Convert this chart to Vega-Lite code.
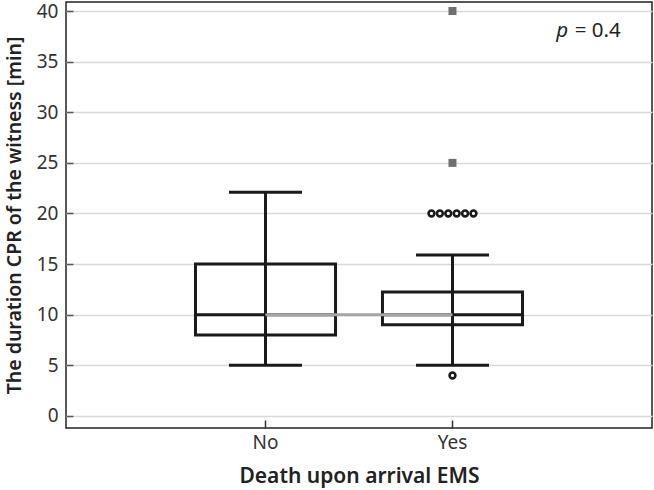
{
  "$schema": "https://vega.github.io/schema/vega-lite/v6.json",
  "width": 586,
  "height": 426,
  "autosize": "none",
  "padding": {"left": 66, "top": 2, "right": 2, "bottom": 62},
  "config": {
    "font": "Noto Sans",
    "view": {"stroke": "#222", "strokeWidth": 1.5},
    "axisY": {
      "values": [0, 5, 10, 15, 20, 25, 30, 35, 40],
      "tickSize": -7,
      "tickColor": "#555",
      "tickWidth": 1.5,
      "grid": true,
      "gridColor": "#d9d9d9",
      "gridWidth": 1.5,
      "domain": false,
      "labelFontSize": 19,
      "labelColor": "#333",
      "labelPadding": 15,
      "titleFontSize": 19.5,
      "titleFontWeight": 600,
      "titleColor": "#222",
      "titlePadding": 12
    },
    "axisX": {
      "tickSize": -8,
      "tickColor": "#333",
      "tickWidth": 1.5,
      "grid": false,
      "domain": false,
      "labelFontSize": 19,
      "labelColor": "#333",
      "labelAngle": 0,
      "labelPadding": 13,
      "titleFontSize": 21,
      "titleFontWeight": 600,
      "titleColor": "#222",
      "titlePadding": 13
    }
  },
  "datasets": {
    "boxes": [
      {"group": "No", "lower": 5, "q1": 8, "median": 10, "q3": 15, "upper": 22.1},
      {"group": "Yes", "lower": 5, "q1": 9, "median": 10, "q3": 12.25, "upper": 15.9}
    ],
    "cluster": [
      {"group": "Yes", "k": 1, "value": 20},
      {"group": "Yes", "k": 2, "value": 20},
      {"group": "Yes", "k": 3, "value": 20},
      {"group": "Yes", "k": 4, "value": 20},
      {"group": "Yes", "k": 5, "value": 20},
      {"group": "Yes", "k": 6, "value": 20}
    ],
    "outliers": [{"group": "Yes", "value": 4}],
    "extremes": [{"group": "Yes", "value": 25}, {"group": "Yes", "value": 40}],
    "ptext": [{"x": 0.857, "y": 37.4, "label": "p"}],
    "vtext": [{"x": 0.868, "y": 37.4, "label": "= 0.4"}]
  },
  "resolve": {"scale": {"x": "independent"}},
  "layer": [
    {
      "encoding": {
        "x": {
          "field": "group",
          "type": "nominal",
          "title": "Death upon arrival EMS",
          "scale": {"type": "band", "domain": ["No", "Yes"], "paddingInner": 0.251, "paddingOuter": 0.6925}
        }
      },
      "layer": [
        {
          "data": {"name": "boxes"},
          "mark": {"type": "rule", "color": "#1a1a1a", "strokeWidth": 3},
          "encoding": {
            "y": {"field": "lower", "type": "quantitative", "title": "The duration CPR of the witness [min]", "scale": {"domain": [-1.19, 40.89], "nice": false, "zero": false}},
            "y2": {"field": "upper"}
          }
        },
        {
          "data": {"name": "boxes"},
          "mark": {"type": "bar", "fill": null, "fillOpacity": 0, "stroke": "#1a1a1a", "strokeWidth": 3, "width": {"band": 1}},
          "encoding": {
            "y": {"field": "q1", "type": "quantitative", "title": "The duration CPR of the witness [min]"},
            "y2": {"field": "q3"}
          }
        },
        {
          "data": {"name": "boxes"},
          "mark": {"type": "tick", "color": "#1a1a1a", "thickness": 3, "size": 140, "opacity": 1},
          "encoding": {
            "y": {"field": "median", "type": "quantitative", "title": "The duration CPR of the witness [min]"}
          }
        },
        {
          "data": {"name": "boxes"},
          "mark": {"type": "tick", "color": "#1a1a1a", "thickness": 3, "size": 73, "opacity": 1},
          "encoding": {
            "y": {"field": "lower", "type": "quantitative", "title": "The duration CPR of the witness [min]"}
          }
        },
        {
          "data": {"name": "boxes"},
          "mark": {"type": "tick", "color": "#1a1a1a", "thickness": 3, "size": 73, "opacity": 1},
          "encoding": {
            "y": {"field": "upper", "type": "quantitative", "title": "The duration CPR of the witness [min]"}
          }
        },
        {
          "data": {"name": "boxes"},
          "mark": {"type": "line", "color": "#a5a5a5", "strokeWidth": 3},
          "encoding": {
            "y": {"field": "median", "type": "quantitative", "title": "The duration CPR of the witness [min]"}
          }
        },
        {
          "data": {"name": "cluster"},
          "mark": {"type": "point", "shape": "circle", "filled": false, "fill": "white", "fillOpacity": 1, "stroke": "#1a1a1a", "strokeWidth": 2.6, "size": 34, "opacity": 1},
          "encoding": {
            "xOffset": {"field": "k", "type": "nominal", "scale": {"type": "band", "paddingInner": 0, "paddingOuter": 0, "range": [44.8, 95.2]}},
            "y": {"field": "value", "type": "quantitative", "title": "The duration CPR of the witness [min]"}
          }
        },
        {
          "data": {"name": "outliers"},
          "mark": {"type": "point", "shape": "circle", "filled": false, "fill": "white", "fillOpacity": 1, "stroke": "#1a1a1a", "strokeWidth": 2.6, "size": 34, "opacity": 1},
          "encoding": {
            "y": {"field": "value", "type": "quantitative", "title": "The duration CPR of the witness [min]"}
          }
        },
        {
          "data": {"name": "extremes"},
          "mark": {"type": "point", "shape": "square", "filled": true, "color": "#707070", "size": 64, "opacity": 1},
          "encoding": {
            "y": {"field": "value", "type": "quantitative", "title": "The duration CPR of the witness [min]"}
          }
        }
      ]
    },
    {
      "data": {"name": "ptext"},
      "mark": {"type": "text", "align": "right", "baseline": "alphabetic", "fontSize": 20.5, "fontStyle": "italic", "color": "#222"},
      "encoding": {
        "x": {"field": "x", "type": "quantitative", "scale": {"domain": [0, 1]}, "axis": null},
        "y": {"field": "y", "type": "quantitative", "title": "The duration CPR of the witness [min]"},
        "text": {"field": "label"}
      }
    },
    {
      "data": {"name": "vtext"},
      "mark": {"type": "text", "align": "left", "baseline": "alphabetic", "fontSize": 20.5, "color": "#222"},
      "encoding": {
        "x": {"field": "x", "type": "quantitative", "scale": {"domain": [0, 1]}, "axis": null},
        "y": {"field": "y", "type": "quantitative", "title": "The duration CPR of the witness [min]"},
        "text": {"field": "label"}
      }
    }
  ]
}
